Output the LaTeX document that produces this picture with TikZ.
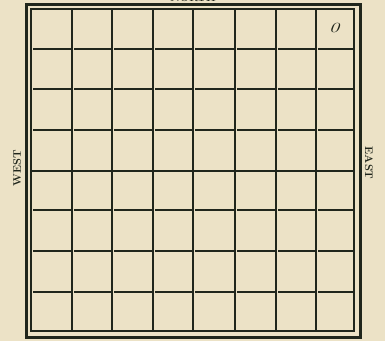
\documentclass[tikz,border=0pt]{standalone}
\begin{document}
\begin{tikzpicture}[x=1pt,y=-1pt,
  ink/.style={draw=inkc},
  thin grid/.style={ink,line width=1.5pt},
  thick grid/.style={ink,line width=2.8pt},
  lbl/.style={font=\fontsize{11}{11}\selectfont\bfseries,text=inkc,inner sep=0pt}]
\definecolor{paper}{RGB}{236,226,198}
\definecolor{inkc}{RGB}{32,38,28}
\fill[paper] (0,0) rectangle (385,341);
\useasboundingbox (0,0) rectangle (385,341);
% frames
\draw[ink,line width=3pt] (26,4) rectangle (360,337);
\draw[ink,line width=2pt] (31,9) rectangle (354,331);
% vertical lines
\foreach \x in {72,112,153,235,276,316} \draw[thin grid] (\x,9) -- (\x,331);
\draw[thick grid] (193,9) -- (193,331);
% horizontal lines (drawn cell by cell)
\foreach \y in {49,89,130,210,251,292} {
  \foreach \a/\b in {31/72,72/112,112/153,153/193,193/235,235/276,276/316,316/354}
    \draw[thin grid] (\a+2,\y) -- (\b-1,\y);
}
\draw[thick grid] (31,171) -- (354,171);
% labels
\node[lbl,rotate=90] (west) at (17,168) {WEST};
\node[lbl,rotate=-90] (east) at (369,163) {EAST};
\node[lbl,anchor=south] (north) at (193,2) {NORTH};
\node[font=\fontsize{14}{14}\selectfont\itshape,text=inkc,inner sep=0pt,xscale=1.5] (zero) at (334,28) {0};
\end{tikzpicture}
\end{document}
